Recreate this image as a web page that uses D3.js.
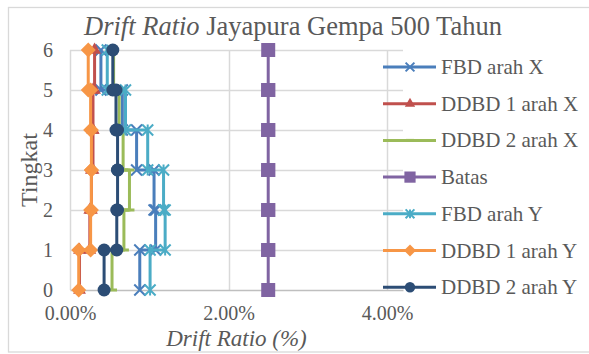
<!DOCTYPE html>
<html>
<head>
<meta charset="utf-8">
<script src="https://cdn.jsdelivr.net/npm/d3@7"></script>
<style>
  html, body { margin: 0; padding: 0; background: #ffffff; }
  svg { display: block; }
</style>
</head>
<body>
<svg id="chart" width="589" height="354"></svg>
<script>
// Storey levels (Tingkat) and storey drift ratios in percent, storey 1 at the bottom
const levels = [0, 1, 2, 3, 4, 5, 6];
const fbdX   = [0.88, 1.08, 1.06, 0.84, 0.66, 0.39];
const ddbd1X = [0.12, 0.25, 0.27, 0.29, 0.29, 0.31];
const ddbd2X = [0.53, 0.68, 0.75, 0.67, 0.62, 0.55];
const batas  = [2.5, 2.5, 2.5, 2.5, 2.5, 2.5];
const fbdY   = [1.01, 1.20, 1.18, 0.98, 0.70, 0.47];
const ddbd1Y = [0.11, 0.26, 0.27, 0.27, 0.26, 0.23];
const ddbd2Y = [0.43, 0.59, 0.60, 0.60, 0.58, 0.54];

const xTicks = [0, 2, 4];
const yTicks = levels;

const seriesNames = ["FBD arah X", "DDBD 1 arah X", "DDBD 2 arah X", "Batas",
                     "FBD arah Y", "DDBD 1 arah Y", "DDBD 2 arah Y"];
const seriesValues = [fbdX, ddbd1X, ddbd2X, batas, fbdY, ddbd1Y, ddbd2Y];
const seriesColors = ["#4a7ebb", "#c0504d", "#9bbb59", "#8064a2", "#4bacc6", "#f79646", "#2c4d75"];
const seriesMarkers = ["x", "triangle", "dash", "square", "star", "diamond", "circle"];

const FONT = '"Liberation Serif"';
const TEXT_COLOR = "#595959";

// Each storey drift spans from the floor below to the floor above: a stepped profile
function stepPoints(vals) {
  const pts = [];
  vals.forEach((v, i) => {
    pts.push([v, levels[i]]);
    pts.push([v, levels[i + 1]]);
  });
  return pts;
}

const svg = d3.select("#chart");
const x = d3.scaleLinear().domain([0, 4.2]).range([70, 403]);
const y = d3.scaleLinear().domain([0, 6]).range([290, 50]);

// Chart border
svg.append("rect").attr("x", 8.5).attr("y", 7.5).attr("width", 590).attr("height", 344.5)
  .attr("fill", "none").attr("stroke", "#d9d9d9").attr("stroke-width", 1.3);

// Gridlines
const grid = svg.append("g");
grid.selectAll("line.h").data(yTicks.filter(d => d > 0)).join("line")
  .attr("x1", x(0)).attr("x2", x(4.2))
  .attr("y1", d => Math.round(y(d)) + 0.5).attr("y2", d => Math.round(y(d)) + 0.5)
  .attr("stroke", "#d9d9d9").attr("stroke-width", 1.5);
grid.selectAll("line.v").data(xTicks).join("line")
  .attr("y1", y(0)).attr("y2", y(6))
  .attr("x1", d => Math.round(x(d)) + 0.5).attr("x2", d => Math.round(x(d)) + 0.5)
  .attr("stroke", "#d9d9d9").attr("stroke-width", 1.5);

function styleText(sel, size) {
  sel.attr("font-family", null)
     .style("font-family", FONT).style("font-size", size + "px").style("fill", TEXT_COLOR);
}

// Axes
const xAxis = svg.append("g").attr("transform", `translate(0,${y(0)})`)
  .call(d3.axisBottom(x).tickValues(xTicks).tickSize(0).tickPadding(16)
        .tickFormat(d => d.toFixed(2) + "%"));
xAxis.attr("font-family", null).attr("font-size", null);
xAxis.select(".domain").attr("stroke", "#bfbfbf").attr("stroke-width", 1.5);
styleText(xAxis.selectAll("text"), 20);

const yAxis = svg.append("g").attr("transform", `translate(${x(0)},0)`)
  .call(d3.axisLeft(y).tickValues(yTicks).tickSize(0).tickPadding(17).tickFormat(d3.format("d")));
yAxis.attr("font-family", null).attr("font-size", null);
yAxis.select(".domain").remove();
styleText(yAxis.selectAll("text"), 20);

// Marker shapes
function drawMarker(g, type, color, size) {
  const s = size;
  switch (type) {
    case "x":
      g.append("path").attr("d", `M${-s/2},${-s/2}L${s/2},${s/2}M${-s/2},${s/2}L${s/2},${-s/2}`)
        .attr("stroke", color).attr("stroke-width", 2).attr("fill", "none");
      break;
    case "star":
      g.append("path").attr("d", `M${-s/2},${-s/2}L${s/2},${s/2}M${-s/2},${s/2}L${s/2},${-s/2}M0,${-s/2}L0,${s/2}`)
        .attr("stroke", color).attr("stroke-width", 2).attr("fill", "none");
      break;
    case "triangle":
      g.append("path").attr("d", d3.symbol(d3.symbolTriangle, s * s * 0.5)())
        .attr("fill", color);
      break;
    case "square":
      g.append("rect").attr("x", -s/2).attr("y", -s/2).attr("width", s).attr("height", s)
        .attr("fill", color);
      break;
    case "diamond":
      g.append("path").attr("d", `M0,${-s/2}L${s/2},0L0,${s/2}L${-s/2},0Z`).attr("fill", color);
      break;
    case "circle":
      g.append("circle").attr("r", s/2).attr("fill", color);
      break;
    case "dash":
      g.append("rect").attr("x", -s/2).attr("y", -1.5).attr("width", s).attr("height", 3)
        .attr("fill", color);
      break;
  }
}

const markerSizes = { x: 11, star: 11, triangle: 12, square: 14, diamond: 15, circle: 13, dash: 10 };
const line = d3.line().x(d => x(d[0])).y(d => y(d[1]));

const plot = svg.append("g");
seriesValues.forEach((vals, i) => {
  const pts = stepPoints(vals);
  const g = plot.append("g");
  g.append("path").attr("d", line(pts)).attr("fill", "none")
    .attr("stroke", seriesColors[i]).attr("stroke-width", 3).attr("stroke-linejoin", "round");
  pts.forEach(p => {
    const m = g.append("g").attr("transform", `translate(${x(p[0])},${y(p[1])})`);
    drawMarker(m, seriesMarkers[i], seriesColors[i], markerSizes[seriesMarkers[i]]);
  });
});

// Legend
const legendTop = 67, legendStep = 36.7;
const legend = svg.append("g");
seriesNames.forEach((name, i) => {
  const ly = legendTop + i * legendStep;
  const g = legend.append("g").attr("transform", `translate(0,${ly})`);
  g.append("line").attr("x1", 383).attr("x2", 436).attr("y1", 0).attr("y2", 0)
    .attr("stroke", seriesColors[i]).attr("stroke-width", 3);
  const m = g.append("g").attr("transform", "translate(410,0)");
  drawMarker(m, seriesMarkers[i], seriesColors[i], markerSizes[seriesMarkers[i]] * 0.8);
  styleText(g.append("text").attr("x", 441).attr("y", 7).text(name), 21);
});

// Titles
const title = svg.append("text").attr("x", 293).attr("y", 35).attr("text-anchor", "middle");
styleText(title, 26.5);
title.append("tspan").style("font-style", "italic").text("Drift Ratio");
title.append("tspan").text(" Jayapura Gempa 500 Tahun");

const xTitle = svg.append("text").attr("x", (x(0) + x(4.2)) / 2).attr("y", 346).attr("text-anchor", "middle")
  .style("font-style", "italic").text("Drift Ratio (%)");
styleText(xTitle, 23);

const yTitle = svg.append("text").attr("transform", `translate(37,${y(3)}) rotate(-90)`)
  .attr("text-anchor", "middle").text("Tingkat");
styleText(yTitle, 24);
</script>
</body>
</html>
